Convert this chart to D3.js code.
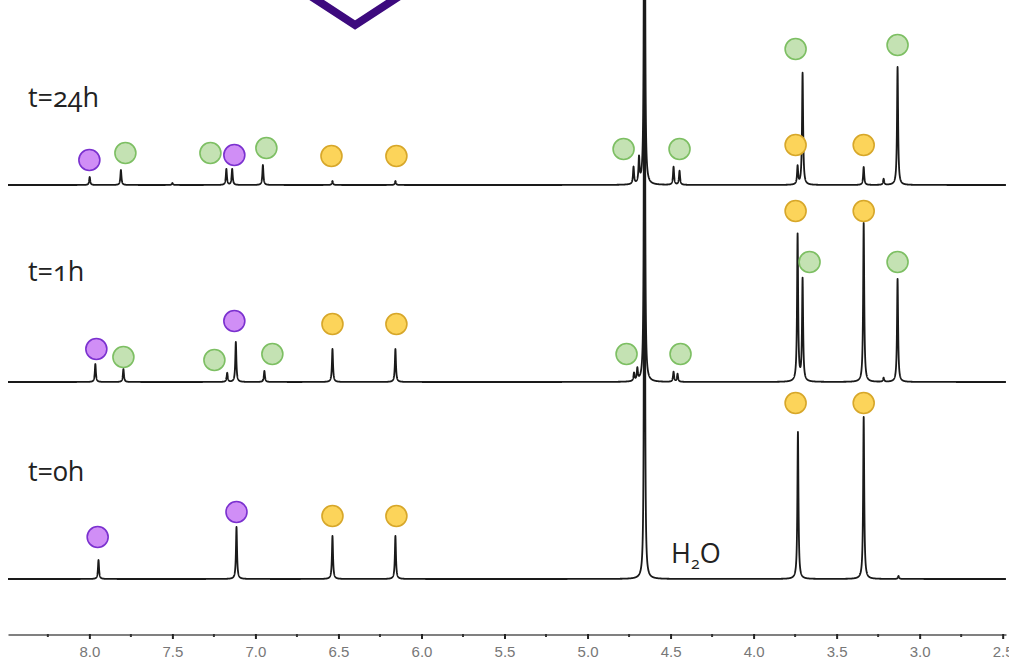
<script src="https://d3js.org/d3.v7.min.js"></script>
<style>
body { margin: 0; background: #fff; }
svg { display: block; }
.spec { fill: none; stroke: #1a1a1a; stroke-width: 1.8px; stroke-linejoin: round; }
.lbl { font-family: "Open Sans", sans-serif; font-size: 27px; fill: #222; font-feature-settings: "onum"; }
.axis text { font-family: "Liberation Sans", Arial, sans-serif; font-size: 15px; fill: #777; }
</style>
<svg width="1024" height="667"></svg>
<script>
// spectra stacked bottom to top
let times = ["t=0h", "t=1h", "t=24h"]

// peaks: [ppm, height, half width (ppm)]
let peaks0h = [[7.945, 19], [7.114, 52], [6.536, 43], [6.157, 43], [4.657, 1500, 0.0018], [3.733, 147], [3.337, 162], [3.127, 3]]
let peaks1h = [[7.964, 18], [7.795, 13], [7.17, 9], [7.118, 40], [6.946, 11], [6.536, 33], [6.157, 33],
    [4.72, 8], [4.70, 12], [4.657, 1500, 0.0018], [4.482, 10], [4.458, 8],
    [3.735, 147], [3.705, 102], [3.337, 159], [3.217, 4], [3.133, 103]]
let peaks24h = [[7.998, 8], [7.81, 15], [7.5, 2], [7.175, 16], [7.14, 16], [6.955, 20], [6.536, 4], [6.157, 4],
    [4.723, 17], [4.69, 25], [4.657, 1500, 0.0018], [4.482, 18], [4.446, 14],
    [3.735, 18], [3.705, 112], [3.337, 18], [3.217, 6], [3.133, 118]]

// markers: [ppm, height of circle centre, kind]
let marks0h = [[7.95, 42, "p"], [7.114, 67, "p"], [6.536, 63, "y"], [6.151, 63, "y"], [3.747, 176, "y"], [3.337, 176, "y"]]
let marks1h = [[7.958, 33, "p"], [7.795, 25, "g"], [7.247, 22, "g"], [7.127, 61, "p"], [6.898, 28, "g"],
    [6.536, 58, "y"], [6.151, 58, "y"], [4.765, 28, "g"], [4.44, 28, "g"],
    [3.747, 171, "y"], [3.663, 120, "g"], [3.337, 171, "y"], [3.133, 120, "g"]]
let marks24h = [[8.0, 25, "p"], [7.783, 32, "g"], [7.271, 32, "g"], [7.127, 30, "p"], [6.934, 37, "g"],
    [6.542, 29, "y"], [6.151, 29, "y"], [4.783, 36, "g"], [4.446, 36, "g"],
    [3.747, 136, "g"], [3.747, 40, "y"], [3.337, 40, "y"], [3.133, 140, "g"]]

let majorTicks = [8.0, 7.5, 7.0, 6.5, 6.0, 5.5, 5.0, 4.5, 4.0, 3.5, 3.0, 2.5]
let minorTicks = [8.25, 7.75, 7.25, 6.75, 6.25, 5.75, 5.25, 4.75, 4.25, 3.75, 3.25, 2.75]

let peakSets = [peaks0h, peaks1h, peaks24h]
let markSets = [marks0h, marks1h, marks24h]

let fills = {p: "#d08ef6", g: "#c4e2b3", y: "#fcd45a"}
let strokes = {p: "#7b31cf", g: "#7dbf63", y: "#d7a72a"}

let svg = d3.select("svg")
let x = d3.scaleLinear().domain([8.49, 2.48]).range([8, 1006])
let base = d3.scalePoint().domain(times).range([579, 185])
let h = d3.scaleLinear().domain([0, 100]).range([0, -100])

let hw = 0.0038 // default lorentzian half width, ppm

function spectrum(peaks) {
    let pts = d3.range(8.49, 2.48, -0.0006).concat(peaks.map(p => p[0]))
    pts.sort((a, b) => b - a)
    return pts.map(v => {
        let s = 0
        for (let p of peaks) {
            let d = (v - p[0]) / (p[2] || hw)
            s += p[1] / (1 + d * d)
        }
        return [v, s]
    })
}

// purple chevron at top
svg.append("path")
    .attr("d", "M" + x(6.77) + ",-15 L" + x(6.4) + ",25 L" + x(6.03) + ",-15")
    .attr("fill", "none")
    .attr("stroke", "#3d0a7e")
    .attr("stroke-width", 8)

times.forEach((t, i) => {
    let g = svg.append("g").attr("transform", "translate(0," + base(t) + ")")
    let line = d3.line().x(d => x(d[0])).y(d => h(d[1]))
    g.append("path").attr("class", "spec").attr("d", line(spectrum(peakSets[i])))
})

let labelLift = [98, 101, 78]
times.forEach((t, i) => {
    let g = svg.append("g").attr("transform", "translate(0," + base(t) + ")")
    g.selectAll("circle").data(markSets[i]).join("circle")
        .attr("cx", d => x(d[0]))
        .attr("cy", d => h(d[1]))
        .attr("r", 10.5)
        .attr("fill", d => fills[d[2]])
        .attr("stroke", d => strokes[d[2]])
        .attr("stroke-width", 1.6)
    svg.append("text").attr("class", "lbl")
        .attr("x", 28).attr("y", base(t) - labelLift[i])
        .text(t)
})

let w = svg.append("text").attr("class", "lbl").attr("x", 671).attr("y", 563)
w.append("tspan").text("H")
w.append("tspan").attr("font-size", 16).attr("dy", 6).text("2")
w.append("tspan").attr("dy", -6).text("O")

// ppm axis
svg.append("clipPath").attr("id", "ac").append("rect").attr("width", 1009).attr("height", 667)
let ax = svg.append("g").attr("class", "axis").attr("clip-path", "url(#ac)")
    .attr("transform", "translate(0,634)")
ax.call(d3.axisBottom(x).tickValues(majorTicks).tickFormat(d3.format(".1f")).tickSize(5).tickSizeOuter(0).tickPadding(7))
ax.select(".domain").attr("stroke", "#808080").attr("stroke-width", 3)
ax.selectAll(".tick line").attr("stroke", "#222").attr("stroke-width", 2)
ax.selectAll(".tick text").attr("fill", "#777")
ax.selectAll(".minor").data(minorTicks).join("line")
    .attr("x1", d => x(d)).attr("x2", d => x(d))
    .attr("y1", 0).attr("y2", 3)
    .attr("stroke", "#333").attr("stroke-width", 2)
</script>
